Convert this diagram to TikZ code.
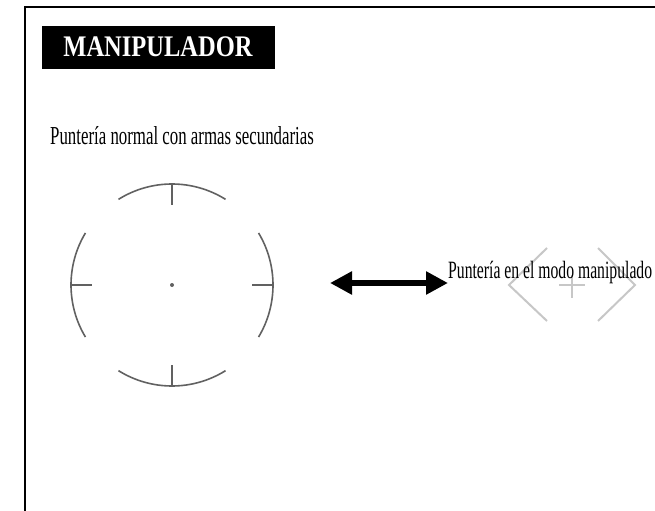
\documentclass[tikz,border=0pt]{standalone}
\usepackage{fontspec}
\setmainfont{Liberation Serif}
\newfontfamily\condfont[FakeStretch=0.65]{Liberation Serif}
\newfontfamily\condfontb[FakeStretch=0.63]{Liberation Serif}
\newfontfamily\titlefont[FakeStretch=0.82]{Liberation Serif Bold}
\usetikzlibrary{arrows.meta}
\begin{document}
\begin{tikzpicture}[x=1bp,y=1bp,
  frameline/.style={line width=2.2bp,black},
  titlebox/.style={fill=black,minimum width=233bp,minimum height=43bp,inner sep=0pt},
  titletext/.style={text=white,font=\titlefont\fontsize{30}{30}\selectfont,inner sep=0pt},
  label/.style={font=\condfont\fontsize{26}{26}\selectfont,inner sep=0pt,anchor=base west},
  reticle/.style={draw=black!62,line width=1.6bp},
  ghost/.style={draw=black!22,line width=2bp},
  bigarrow/.style={line width=6bp,{Triangle[length=22bp,width=22bp]}-{Triangle[length=22bp,width=22bp]}}
]
\useasboundingbox (0,0) rectangle (655,-511);
% frame
\draw[frameline] (25,-511) -- (25,-7) -- (655,-7);
% title
\node[titlebox] (tbox) at (158.5,-47.5) {};
\node[titletext,anchor=base] (ttext) at (158,-57) {MANIPULADOR};
% labels
\node[label] (lab1) at (50,-145) {Puntería normal con armas secundarias};
% left reticle
\coordinate (c) at (172,-285);
\begin{scope}[reticle]
\draw (c) ++(58:101) arc[start angle=58,end angle=122,radius=101];
\draw (c) ++(238:101) arc[start angle=238,end angle=302,radius=101];
\draw (c) ++(149:101) arc[start angle=149,end angle=211,radius=101];
\draw (c) ++(-31:101) arc[start angle=-31,end angle=31,radius=101];
\draw (c) ++(0,101) -- ++(0,-21);
\draw (c) ++(0,-101) -- ++(0,21);
\draw (c) ++(-101,0) -- ++(21,0);
\draw (c) ++(101,0) -- ++(-21,0);
\end{scope}
\fill[black!62] (c) circle (2bp);
% right ghost reticle
\coordinate (g) at (572,-285);
\begin{scope}[ghost]
\draw (547,-248) -- (509,-285) -- (547,-321);
\draw (598,-248) -- (635,-285) -- (598,-321);
\draw (559,-285) -- (585,-285);
\draw (572,-275) -- (572,-298);
\end{scope}
% arrow
\coordinate (aL) at (330,-283);
\coordinate (aR) at (448,-283);
\draw[bigarrow] (aL) -- (aR);
\node[label,font=\condfontb\fontsize{25}{25}\selectfont] (lab2) at (448,-278) {Puntería en el modo manipulado};
\end{tikzpicture}
\end{document}
